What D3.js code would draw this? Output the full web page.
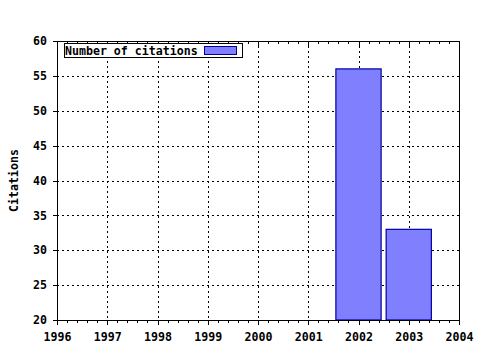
<!DOCTYPE html>
<html>
<head>
<meta charset="utf-8">
<script src="https://cdn.jsdelivr.net/npm/d3@7"></script>
<style>
body { margin: 0; background: #fff; }
svg text { font-family: "DejaVu Sans Mono", monospace; font-weight: bold; font-size: 11.6px; }
</style>
</head>
<body>
<svg id="chart" width="480" height="350"></svg>
<script>
// citations per year
var years = [2002, 2003];
var citations = [56, 33];
var xTicks = [1996, 1997, 1998, 1999, 2000, 2001, 2002, 2003, 2004];
var yTicks = [20, 25, 30, 35, 40, 45, 50, 55, 60];
var seriesName = "Number of citations";

var pLeft = 57, pRight = 459, pTop = 41, pBottom = 320;

var svg = d3.select("#chart");
var x = d3.scaleLinear().domain([1996, 2004]).range([pLeft, pRight]);
var y = d3.scaleLinear().domain([20, 60]).range([pBottom, pTop]);

function px(v) { return Math.round(v) + 0.5; }

// grid
var grid = svg.append("g").attr("stroke", "#000").attr("stroke-dasharray", "2,3").attr("shape-rendering", "crispEdges");
xTicks.slice(1, -1).forEach(function(t) {
	grid.append("line").attr("x1", px(x(t))).attr("x2", px(x(t))).attr("y1", pTop).attr("y2", pBottom);
});
yTicks.slice(1, -1).forEach(function(t) {
	grid.append("line").attr("x1", pLeft).attr("x2", pRight).attr("y1", px(y(t))).attr("y2", px(y(t)));
});

// bars
var bw = (x(1) - x(0)) * 0.9;
svg.selectAll("rect.bar").data(years).enter().append("rect")
	.attr("class", "bar")
	.attr("x", function(d) { return x(d) - bw / 2; })
	.attr("width", bw)
	.attr("y", function(d, i) { return y(citations[i]); })
	.attr("height", function(d, i) { return pBottom - y(citations[i]); })
	.attr("fill", "#8080ff")
	.attr("stroke", "#0000a0")
	.attr("stroke-width", 1.2);

// axes
var xAxis = d3.axisBottom(x).tickValues(xTicks).tickFormat(d3.format("d")).tickSizeInner(5).tickSizeOuter(0).tickPadding(8);
var gx = svg.append("g").attr("transform", "translate(0," + pBottom + ")").call(xAxis);
var yAxis = d3.axisLeft(y).tickValues(yTicks).tickSizeInner(4).tickSizeOuter(0).tickPadding(6);
var gy = svg.append("g").attr("transform", "translate(" + pLeft + ",0)").call(yAxis);
[gx, gy].forEach(function(g) {
	g.selectAll("text").attr("fill", "#000").style("font-size", "11.6px");
	g.select(".domain").remove();
	g.selectAll("line").attr("stroke", "#000").attr("shape-rendering", "crispEdges");
});

// minor ticks on x
var minor = [];
for (var yr = 1996; yr < 2004; yr++) for (var k = 1; k < 5; k++) minor.push(yr + k / 5);
var mt = svg.append("g").attr("stroke", "#000").attr("shape-rendering", "crispEdges");
minor.forEach(function(m) {
	mt.append("line").attr("x1", px(x(m))).attr("x2", px(x(m))).attr("y1", pBottom).attr("y2", pBottom + 3);
	mt.append("line").attr("x1", px(x(m))).attr("x2", px(x(m))).attr("y1", pTop).attr("y2", pTop + 3);
});
// top major ticks
xTicks.forEach(function(t) {
	mt.append("line").attr("x1", px(x(t))).attr("x2", px(x(t))).attr("y1", pTop).attr("y2", pTop + 5);
});

// frame
svg.append("rect").attr("x", pLeft + 0.5).attr("y", pTop + 0.5).attr("width", pRight - pLeft).attr("height", pBottom - pTop)
	.attr("fill", "none").attr("stroke", "#000").attr("stroke-width", 1.5).attr("shape-rendering", "crispEdges");

// y label
svg.append("text").attr("transform", "translate(18," + ((pTop + pBottom) / 2) + ") rotate(-90)")
	.attr("text-anchor", "middle").text("Citations");

// legend
var lg = svg.append("g");
lg.append("rect").attr("x", 64.5).attr("y", 43.5).attr("width", 178).attr("height", 14)
	.attr("fill", "#fff").attr("stroke", "#000").attr("shape-rendering", "crispEdges");
lg.append("text").attr("x", 65).attr("y", 54.5).text(seriesName);
lg.append("rect").attr("x", 204.5).attr("y", 46.5).attr("width", 32).attr("height", 8)
	.attr("fill", "#8080ff").attr("stroke", "#0000a0");
</script>
</body>
</html>
